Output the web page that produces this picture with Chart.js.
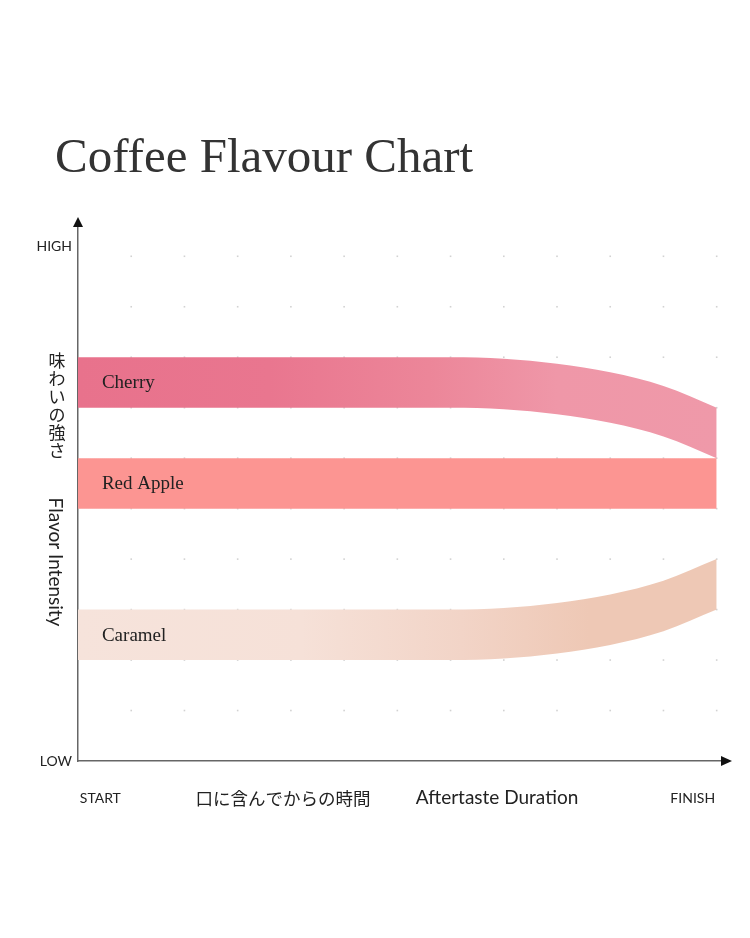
<!DOCTYPE html>
<html><head><meta charset="utf-8">
<script src="https://cdn.jsdelivr.net/npm/chart.js@4.4.1/dist/chart.umd.min.js"></script>
<style>html,body{margin:0;padding:0;background:#fff;}#wrap{position:relative;width:750px;height:938px;}canvas{display:block;}</style>
</head><body><div id="wrap"><canvas id="c" width="750" height="938"></canvas></div>
<script>
// ---- data ----
const timeSteps     = [0, 1, 2, 3, 4, 5, 6, 7, 8, 9, 10, 11, 12];
const cherryTop     = [8, 8, 8, 8, 8, 8, 8, 8, 7.97, 7.87, 7.70, 7.43, 7.0];
const cherryBottom  = [7, 7, 7, 7, 7, 7, 7, 7, 6.97, 6.87, 6.70, 6.43, 6.0];
const appleTop      = [6, 6, 6, 6, 6, 6, 6, 6, 6, 6, 6, 6, 6];
const appleBottom   = [5, 5, 5, 5, 5, 5, 5, 5, 5, 5, 5, 5, 5];
const caramelTop    = [3, 3, 3, 3, 3, 3, 3, 3, 3.03, 3.13, 3.30, 3.57, 4.0];
const caramelBottom = [2, 2, 2, 2, 2, 2, 2, 2, 2.03, 2.13, 2.30, 2.57, 3.0];
const flavourNames  = ['Cherry', 'Red Apple', 'Caramel'];
const yTickValues   = [0, 10.2];
const yTickLabels   = ['LOW', 'HIGH'];
const xTickValues   = [0.42, 11.55];
const xTickLabels   = ['START', 'FINISH'];
const chartTitle    = 'Coffee Flavour Chart';
const yTitleJa      = '味わいの強さ';
const yTitleEn      = 'Flavor Intensity';
const xTitleJa      = '口に含んでからの時間';
const xTitleEn      = 'Aftertaste Duration';

const gradients = [
  [[0, '#E8728C'], [0.3, '#E9768F'], [0.55, '#EC8699'], [0.75, '#EF97A8'], [1, '#EF99A9']],
  [[0, '#FC9592'], [1, '#FC9592']],
  [[0, '#F6E3DB'], [0.35, '#F6E1D8'], [0.6, '#F2D4C7'], [0.8, '#EEC8B5'], [1, '#EEC8B5']]
];

function pts(arr) { return timeSteps.map((t, i) => ({ x: t, y: arr[i] })); }

function gradFill(k) {
  return (ctx) => {
    const chart = ctx.chart;
    const xs = chart.scales.x;
    if (!chart.chartArea || !xs) return gradients[k][0][1];
    const g = chart.ctx.createLinearGradient(xs.getPixelForValue(timeSteps[0]), 0, xs.getPixelForValue(timeSteps[timeSteps.length - 1]), 0);
    gradients[k].forEach(s => g.addColorStop(s[0], s[1]));
    return g;
  };
}

const bands = [[cherryTop, cherryBottom], [appleTop, appleBottom], [caramelTop, caramelBottom]];
const datasets = [];
bands.forEach((b, k) => {
  datasets.push({ label: flavourNames[k], data: pts(b[0]), fill: '+1', backgroundColor: gradFill(k),
    borderWidth: 0, borderColor: 'transparent', pointRadius: 0, cubicInterpolationMode: 'monotone' });
  datasets.push({ label: flavourNames[k] + ' base', data: pts(b[1]), fill: false,
    borderWidth: 0, borderColor: 'transparent', pointRadius: 0, cubicInterpolationMode: 'monotone' });
});

const decor = {
  id: 'decor',
  beforeDatasetsDraw(chart) {
    const { ctx, scales: { x, y } } = chart;
    ctx.save();
    ctx.fillStyle = '#d2d2d2';
    for (let i = 1; i <= 12; i++) {
      for (let j = 1; j <= 10; j++) {
        const px = x.getPixelForValue(i), py = y.getPixelForValue(j);
        ctx.fillRect(px - 0.8, py - 0.8, 1.6, 1.6);
      }
    }
    ctx.restore();
  },
  afterDraw(chart) {
    const { ctx, chartArea: ca, scales: { x, y } } = chart;
    ctx.save();
    // arrows
    ctx.fillStyle = '#111';
    ctx.beginPath();
    ctx.moveTo(ca.left, ca.top - 9); ctx.lineTo(ca.left - 5, ca.top + 1); ctx.lineTo(ca.left + 5, ca.top + 1); ctx.closePath(); ctx.fill();
    ctx.beginPath();
    ctx.moveTo(ca.right + 10, ca.bottom); ctx.lineTo(ca.right - 1, ca.bottom - 5); ctx.lineTo(ca.right - 1, ca.bottom + 5); ctx.closePath(); ctx.fill();
    // title
    ctx.fillStyle = '#333';
    ctx.font = '49px "Liberation Serif"';
    ctx.textAlign = 'left'; ctx.textBaseline = 'alphabetic';
    ctx.fillText(chartTitle, 55, 172);
    // band labels
    ctx.fillStyle = '#222';
    ctx.font = '19px "Liberation Serif"';
    ctx.textBaseline = 'middle';
    bands.forEach((b, k) => {
      const py = y.getPixelForValue((b[0][0] + b[1][0]) / 2);
      ctx.fillText(flavourNames[k], x.getPixelForValue(0.45), py + 1);
    });
    // y titles
    ctx.fillStyle = '#222';
    ctx.textAlign = 'center';
    ctx.font = '17px "Noto Sans CJK JP"';
    [...yTitleJa].forEach((ch, i) => ctx.fillText(ch, 57, 361 + i * 18));
    ctx.save();
    ctx.translate(55, 562);
    ctx.rotate(Math.PI / 2);
    ctx.font = '19px Lato';
    ctx.fillText(yTitleEn, 0, 0);
    ctx.restore();
    // x titles
    ctx.font = '17.5px "Noto Sans CJK JP"';
    ctx.fillText(xTitleJa, 283, 798);
    ctx.font = '19px Lato';
    ctx.fillText(xTitleEn, 497, 798);
    ctx.restore();
  }
};

new Chart(document.getElementById('c'), {
  type: 'line',
  data: { datasets },
  options: {
    responsive: false,
    animation: false,
    events: [],
    layout: { padding: { left: 0, top: 226, right: 28, bottom: 117 } },
    plugins: { legend: { display: false }, tooltip: { enabled: false }, title: { display: false } },
    scales: {
      x: {
        type: 'linear', min: 0, max: 12.1, bounds: 'data',
        grid: { display: false, drawTicks: false },
        border: { display: true, color: '#666', width: 1.5 },
        afterBuildTicks: (s) => { s.ticks = xTickValues.map(v => ({ value: v })); },
        afterFit: (s) => { s.height = 60; },
        ticks: { autoSkip: false, maxRotation: 0, padding: 29, color: '#222', font: { family: 'Lato', size: 14 },
          callback: (v, i) => xTickLabels[i] }
      },
      y: {
        type: 'linear', min: 0, max: 10.6, bounds: 'data',
        grid: { display: false, drawTicks: false },
        border: { display: true, color: '#666', width: 1.5 },
        afterBuildTicks: (s) => { s.ticks = yTickValues.map(v => ({ value: v })); },
        afterFit: (s) => { s.width = 78; },
        ticks: { autoSkip: false, padding: 6, color: '#222', font: { family: 'Lato', size: 14 },
          callback: (v, i) => yTickLabels[i] }
      }
    }
  },
  plugins: [decor]
});
</script></body></html>
